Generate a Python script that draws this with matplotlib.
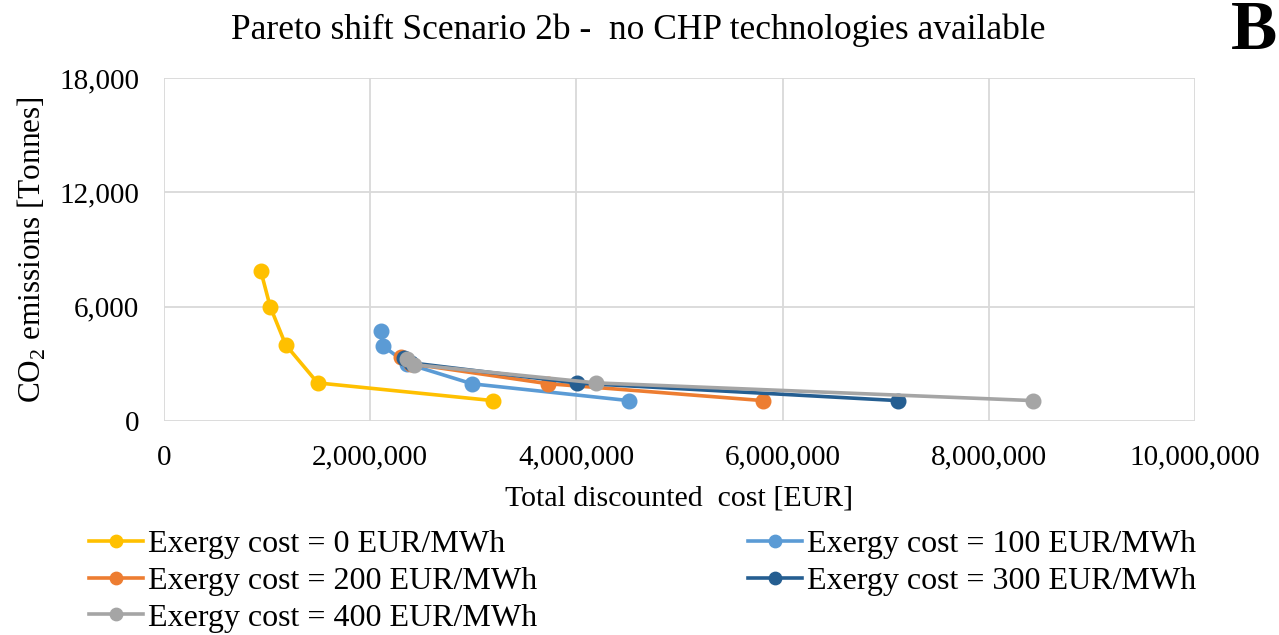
import matplotlib.pyplot as plt
from matplotlib.ticker import FuncFormatter

plt.rcParams['font.family'] = ['Liberation Serif', 'DejaVu Serif']

# values (cost in EUR, emissions in tonnes)
labels = ['Exergy cost = 0 EUR/MWh', 'Exergy cost = 100 EUR/MWh',
          'Exergy cost = 200 EUR/MWh', 'Exergy cost = 300 EUR/MWh',
          'Exergy cost = 400 EUR/MWh']
colors = ['#FFC000', '#5B9BD5', '#ED7D31', '#255E91', '#A5A5A5']

cost_0 = [940000, 1030000, 1180000, 1490000, 3190000]
co2_0 = [7850, 6000, 4000, 2000, 1070]
cost_100 = [2100000, 2120000, 2360000, 2990000, 4510000]
co2_100 = [4720, 3950, 3000, 1950, 1070]
cost_200 = [2300000, 2400000, 3720000, 5810000]
co2_200 = [3380, 3000, 1960, 1070]
cost_300 = [2330000, 2400000, 4010000, 7120000]
co2_300 = [3300, 3050, 1990, 1070]
cost_400 = [2360000, 2420000, 4190000, 8430000]
co2_400 = [3250, 2960, 2000, 1070]

xs = [cost_0, cost_100, cost_200, cost_300, cost_400]
ys = [co2_0, co2_100, co2_200, co2_300, co2_400]

fig = plt.figure(figsize=(12.79, 6.35), dpi=100)
ax = fig.add_axes([164/1279, 1 - 421/635, (1195-164)/1279, (421-78)/635])

handles = []
for x, y, c, lab in zip(xs, ys, colors, labels):
    h, = ax.plot(x, y, color=c, lw=2.6, marker='o', ms=10.5, label=lab)
    handles.append(h)

ax.set_xlim(0, 10000000)
ax.set_ylim(0, 18000)
ax.set_xticks(range(0, 10000001, 2000000))
ax.set_yticks([0, 6000, 12000, 18000])
fmt = FuncFormatter(lambda v, p: f'{int(v):,}')
ax.xaxis.set_major_formatter(fmt)
ax.yaxis.set_major_formatter(fmt)
ax.tick_params(length=0, labelsize=21)
ax.tick_params(axis='x', pad=17)
ax.tick_params(axis='y', pad=18)
ax.grid(True, color='#D9D9D9', lw=1.3)
ax.set_axisbelow(True)
for s in ax.spines.values():
    s.set_visible(False)

ax.set_xlabel('Total discounted  cost [EUR]', fontsize=21.5, labelpad=11)
ax.set_ylabel(r'CO$_\mathregular{2}$ emissions [Tonnes]', fontsize=22.5, labelpad=8)
fig.text(638/1279, 1 - 30/635, 'Pareto shift Scenario 2b -  no CHP technologies available',
         ha='center', va='center', fontsize=25.5)
fig.text(1277/1279, 1 - 32/635, 'B', ha='right', va='center', fontsize=50,
         fontweight='bold')

order = [0, 2, 4, 1, 3]
fig.legend([handles[i] for i in order], [labels[i] for i in order],
           loc='upper left', bbox_to_anchor=(76/1279, 1 - 517/635), ncol=2,
           frameon=False, fontsize=23, handlelength=1.7, handletextpad=0.15,
           columnspacing=6.6, labelspacing=0.23, borderaxespad=0, markerscale=0.85)

fig.savefig('out.png', dpi=100)
